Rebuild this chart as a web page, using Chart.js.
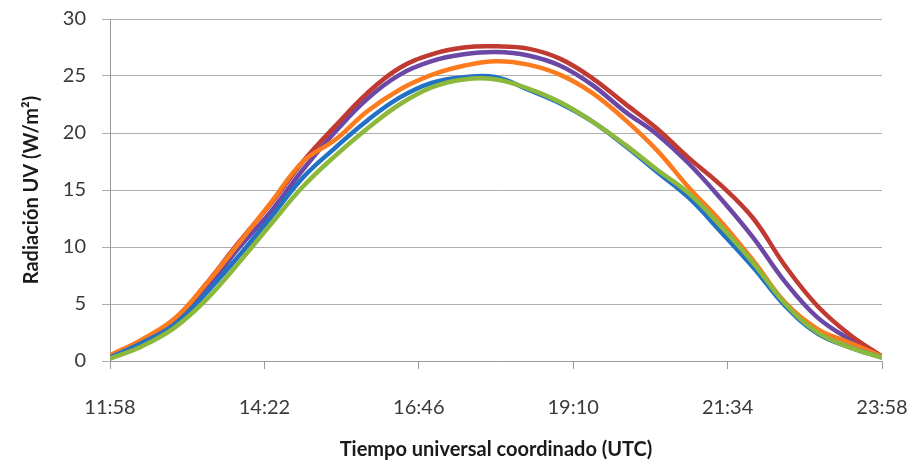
<!DOCTYPE html>
<html>
<head>
<meta charset="utf-8">
<script src="https://cdn.jsdelivr.net/npm/chart.js@4"></script>
<style>
  html, body { margin: 0; padding: 0; background: #fff; }
  #wrap { width: 915px; height: 466px; }
</style>
</head>
<body>
<div id="wrap"><canvas id="uvChart" width="915" height="466"></canvas></div>
<script>
// Horas de medición (UTC), cada 30 minutos
const horas = ['11:58', '12:28', '12:58', '13:28', '13:58', '14:28', '14:58', '15:28', '15:58',
  '16:28', '16:58', '17:28', '17:58', '18:28', '18:58', '19:28', '19:58', '20:28', '20:58',
  '21:28', '21:58', '22:28', '22:58', '23:28', '23:58'];
const xTicks = ['11:58', '14:22', '16:46', '19:10', '21:34', '23:58'];
const yTicks = [0, 5, 10, 15, 20, 25, 30];

// Radiación UV (W/m²) por serie
const serieAzul = [0.3, 1.6, 3.2, 6.0, 9.2, 12.6, 16.1, 18.7, 21.1, 23.1, 24.4, 24.9, 24.9, 23.8, 22.6, 21.0, 18.9, 16.6, 14.3, 11.3, 8.2, 4.8, 2.4, 1.2, 0.3];
const serieVerde = [0.2, 1.3, 2.9, 5.4, 8.6, 12.0, 15.3, 18.0, 20.4, 22.5, 24.0, 24.7, 24.7, 23.9, 22.7, 21.0, 19.0, 16.8, 14.7, 11.8, 8.6, 5.0, 2.5, 1.2, 0.3];
const serieRoja = [0.4, 1.8, 3.6, 6.8, 10.4, 13.8, 17.5, 20.6, 23.5, 25.7, 26.9, 27.5, 27.6, 27.4, 26.5, 24.8, 22.6, 20.4, 17.8, 15.4, 12.5, 8.3, 4.8, 2.3, 0.4];
const serieMorada = [0.4, 1.7, 3.4, 6.3, 9.9, 13.1, 16.8, 20.1, 23.0, 25.1, 26.3, 26.9, 27.1, 26.8, 25.9, 24.2, 21.9, 19.9, 17.3, 14.2, 10.8, 6.9, 3.8, 1.9, 0.4];
const serieNaranja = [0.5, 1.9, 3.7, 6.8, 10.3, 13.9, 17.5, 19.4, 21.9, 23.8, 25.1, 25.9, 26.3, 26.0, 25.1, 23.5, 21.2, 18.5, 15.2, 12.2, 8.8, 5.1, 2.8, 1.6, 0.4];

const aMinutos = h => { const [hh, mm] = h.split(':').map(Number); return hh * 60 + mm; };
const t0 = aMinutos(horas[0]);
const puntos = serie => serie.map((v, i) => ({ x: aMinutos(horas[i]) - t0, y: v }));
const etiquetaHora = v => {
  const m = t0 + v;
  return Math.floor(m / 60) + ':' + String(m % 60).padStart(2, '0');
};

const FUENTE = "Lato, 'Open Sans', sans-serif";

function linea(serie, color) {
  return {
    data: puntos(serie),
    borderColor: color,
    backgroundColor: color,
    borderWidth: 4.5,
    pointRadius: 0,
    tension: 0.4,
    fill: false
  };
}

const ctx = document.getElementById('uvChart').getContext('2d');
const uvChart = new Chart(ctx, {
  type: 'line',
  data: {
    // first dataset is drawn on top
    datasets: [
      linea(serieVerde, '#8cb83c'),
      linea(serieAzul, '#2271c4'),
      linea(serieNaranja, '#fb7b1e'),
      linea(serieRoja, '#c03a32'),
      linea(serieMorada, '#6c48a6')
    ]
  },
  options: {
    responsive: false,
    animation: false,
    layout: { padding: { left: 0, right: 33, top: 19, bottom: 0 } },
    plugins: {
      legend: { display: false },
      tooltip: { enabled: false }
    },
    scales: {
      x: {
        type: 'linear',
        min: 0,
        max: aMinutos(xTicks[xTicks.length - 1]) - t0,
        afterBuildTicks: axis => {
          axis.ticks = xTicks.map(h => ({ value: aMinutos(h) - t0 }));
        },
        // fixed height; the end labels fit inside the layout padding
        afterFit: axis => {
          axis.height = 105;
          axis.paddingLeft = 0;
          axis.paddingRight = 0;
        },
        ticks: {
          callback: v => etiquetaHora(v),
          color: '#3a3a3a',
          font: { family: FUENTE, size: 20 },
          padding: 27,
          maxRotation: 0,
          autoSkip: false
        },
        grid: { drawOnChartArea: false, color: '#9a9a9a', tickLength: 8 },
        border: { color: '#9a9a9a', width: 1 },
        title: {
          display: true,
          text: 'Tiempo universal coordinado (UTC)',
          color: '#1a1a1a',
          font: { family: FUENTE, size: 20, weight: 'bold' },
          padding: { top: 16 }
        }
      },
      y: {
        min: yTicks[0],
        max: yTicks[yTicks.length - 1],
        afterBuildTicks: axis => {
          axis.ticks = yTicks.map(v => ({ value: v }));
        },
        afterFit: axis => {
          axis.width = 110;
          axis.paddingTop = 0;
          axis.paddingBottom = 0;
        },
        ticks: {
          color: '#3a3a3a',
          font: { family: FUENTE, size: 20 },
          padding: 16
        },
        grid: { color: '#adadad', tickLength: 8 },
        border: { color: '#9a9a9a', width: 1 },
        title: {
          display: true,
          text: 'Radiación UV (W/m²)',
          color: '#1a1a1a',
          font: { family: FUENTE, size: 20, weight: 'bold' },
          padding: { top: 20, bottom: 0 }
        }
      }
    }
  }
});
</script>
</body>
</html>
